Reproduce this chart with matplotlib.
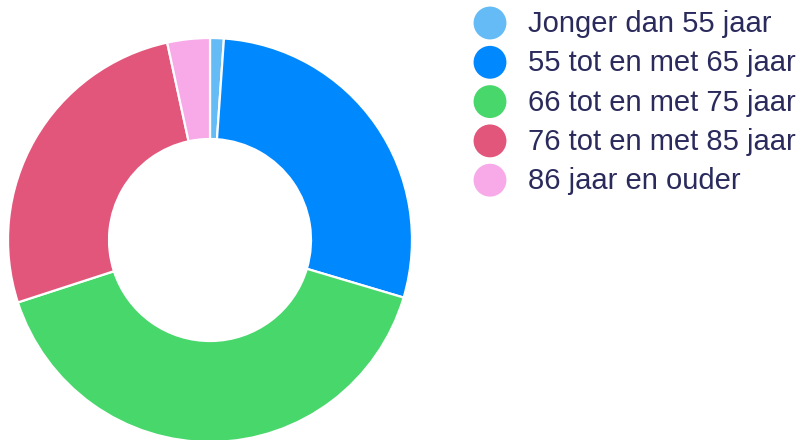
import matplotlib
matplotlib.use("Agg")
import matplotlib.pyplot as plt

labels = [
    "Jonger dan 55 jaar",
    "55 tot en met 65 jaar",
    "66 tot en met 75 jaar",
    "76 tot en met 85 jaar",
    "86 jaar en ouder",
]
shares = [1.1, 28.5, 40.4, 26.6, 3.4]
colors = ["#64bbf5", "#0088ff", "#48d76b", "#e3567b", "#f7a9e8"]

plt.rcParams["font.family"] = ["Liberation Sans", "DejaVu Sans"]

W, H = 802, 440
fig = plt.figure(figsize=(W / 100, H / 100), dpi=100)

# donut: centre (210, 240) px, radius 202 px
cx, cy, r = 210, 240, 202
ax = fig.add_axes([(cx - r) / W, (H - cy - r) / H, 2 * r / W, 2 * r / H])
ax.pie(shares, colors=colors, startangle=90, counterclock=False, radius=1,
       wedgeprops=dict(width=0.5, edgecolor="white", linewidth=1.6))
ax.set_xlim(-1, 1)
ax.set_ylim(-1, 1)
ax.set_aspect("equal")
ax.axis("off")

# legend drawn in pixel coordinates
lax = fig.add_axes([0, 0, 1, 1])
lax.set_xlim(0, W)
lax.set_ylim(H, 0)
lax.axis("off")
for i, (lab, col) in enumerate(zip(labels, colors)):
    y = 23 + i * 39.3
    lax.scatter(490, y, s=560, color=col, edgecolors="none")
    lax.text(528, y + 1, lab, fontsize=21, color="#2a2a5c", va="center", ha="left")

fig.savefig("out.png", dpi=100)
